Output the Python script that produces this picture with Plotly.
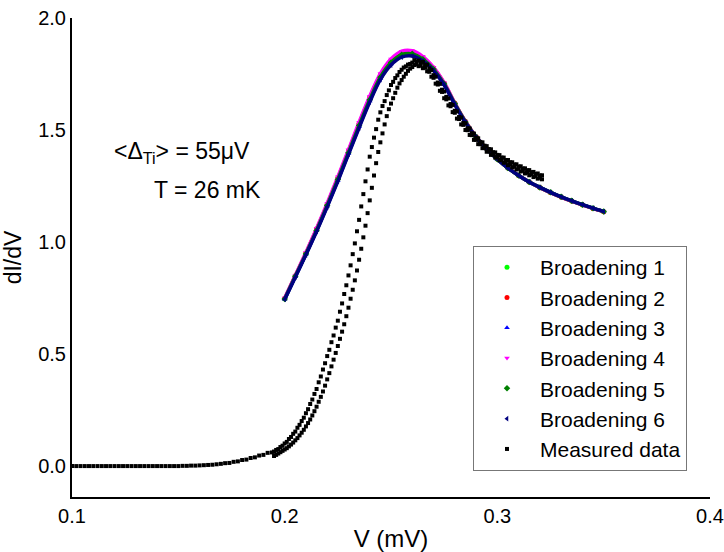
import plotly.graph_objects as go

# ---------------- data ----------------
th_v = [0.200, 0.205, 0.210, 0.215, 0.220, 0.225, 0.230, 0.235, 0.240, 0.245,
        0.250, 0.255, 0.260, 0.265, 0.270, 0.275, 0.280, 0.285, 0.290, 0.295,
        0.300, 0.305, 0.310, 0.315, 0.320, 0.325, 0.330, 0.335, 0.340, 0.345, 0.350]

b1 = [0.747, 0.848, 0.949, 1.055, 1.166, 1.282, 1.403, 1.524, 1.640, 1.741, 1.806, 1.841, 1.845, 1.821, 1.775, 1.708,
      1.619, 1.538, 1.470, 1.416, 1.371, 1.330, 1.297, 1.268, 1.243, 1.221, 1.201, 1.183, 1.166, 1.150, 1.135]
b2 = [0.748, 0.850, 0.951, 1.058, 1.169, 1.286, 1.407, 1.529, 1.645, 1.746, 1.811, 1.846, 1.849, 1.824, 1.777, 1.709,
      1.619, 1.538, 1.470, 1.416, 1.371, 1.331, 1.297, 1.268, 1.243, 1.221, 1.201, 1.183, 1.166, 1.150, 1.135]
b3 = [0.745, 0.845, 0.945, 1.050, 1.160, 1.275, 1.395, 1.515, 1.630, 1.730, 1.795, 1.830, 1.835, 1.812, 1.768, 1.703,
      1.615, 1.535, 1.468, 1.415, 1.370, 1.330, 1.297, 1.268, 1.244, 1.222, 1.202, 1.184, 1.167, 1.151, 1.136]
b4 = [0.750, 0.852, 0.954, 1.061, 1.173, 1.291, 1.412, 1.535, 1.651, 1.752, 1.817, 1.852, 1.854, 1.828, 1.780, 1.711,
      1.620, 1.538, 1.470, 1.416, 1.371, 1.331, 1.297, 1.268, 1.243, 1.221, 1.201, 1.183, 1.166, 1.150, 1.135]
b5 = [0.746, 0.847, 0.947, 1.052, 1.163, 1.279, 1.399, 1.520, 1.635, 1.736, 1.801, 1.836, 1.840, 1.816, 1.771, 1.705,
      1.617, 1.536, 1.469, 1.415, 1.370, 1.330, 1.297, 1.268, 1.244, 1.222, 1.202, 1.184, 1.167, 1.151, 1.136]
b6 = [0.744, 0.843, 0.943, 1.047, 1.157, 1.271, 1.391, 1.510, 1.625, 1.725, 1.790, 1.825, 1.830, 1.808, 1.765, 1.701,
      1.614, 1.534, 1.468, 1.415, 1.370, 1.330, 1.297, 1.268, 1.244, 1.222, 1.202, 1.184, 1.167, 1.151, 1.136]

# measured data: flat part
flat_v = [0.100, 0.102, 0.104, 0.106, 0.108, 0.110, 0.112, 0.114, 0.116, 0.118,
          0.120, 0.122, 0.124, 0.126, 0.128, 0.130, 0.132, 0.134, 0.136, 0.138,
          0.140, 0.142, 0.144, 0.146, 0.148, 0.150, 0.152, 0.154, 0.156, 0.158,
          0.160, 0.162, 0.164, 0.166, 0.168, 0.170, 0.172, 0.174, 0.176, 0.178,
          0.180, 0.182, 0.184, 0.186, 0.188, 0.190, 0.192, 0.194]
flat_y = [0.000] * 26 + [0.001, 0.001, 0.002, 0.002, 0.003, 0.004, 0.005, 0.006, 0.008, 0.010, 0.013,
                         0.014, 0.019, 0.021, 0.027, 0.029, 0.036, 0.039, 0.047, 0.050, 0.059, 0.061]

# measured data: rising part (two sweeps)
rise_v = [0.195, 0.196, 0.197, 0.198, 0.199, 0.200, 0.201, 0.202, 0.203, 0.204,
          0.205, 0.206, 0.207, 0.208, 0.209, 0.210, 0.211, 0.212, 0.213, 0.214,
          0.215, 0.216, 0.217, 0.218, 0.219, 0.220, 0.221, 0.222, 0.223, 0.224,
          0.225, 0.226, 0.227, 0.228, 0.229, 0.230, 0.231, 0.232, 0.233, 0.234,
          0.235, 0.236, 0.237, 0.238, 0.239, 0.240, 0.241, 0.242, 0.243, 0.244,
          0.245, 0.246, 0.247, 0.248, 0.249, 0.250, 0.251, 0.252, 0.253, 0.254,
          0.255, 0.256, 0.257, 0.258, 0.259, 0.260]
rise_a = [0.065, 0.072, 0.076, 0.085, 0.091, 0.101, 0.108, 0.121, 0.130, 0.144,
          0.154, 0.171, 0.184, 0.201, 0.216, 0.236, 0.254, 0.277, 0.297, 0.322,
          0.344, 0.374, 0.400, 0.431, 0.459, 0.491, 0.519, 0.553, 0.583, 0.618,
          0.649, 0.689, 0.726, 0.768, 0.807, 0.851, 0.896, 0.946, 0.994, 1.048,
          1.099, 1.159, 1.214, 1.271, 1.324, 1.381, 1.424, 1.466, 1.504, 1.546,
          1.579, 1.607, 1.629, 1.656, 1.677, 1.701, 1.715, 1.732, 1.744, 1.759,
          1.769, 1.779, 1.784, 1.792, 1.795, 1.801]
rise_b = [0.045, 0.050, 0.056, 0.062, 0.068, 0.074, 0.080, 0.088, 0.096, 0.105,
          0.115, 0.125, 0.137, 0.149, 0.162, 0.177, 0.192, 0.208, 0.226, 0.245,
          0.265, 0.287, 0.309, 0.333, 0.359, 0.387, 0.415, 0.445, 0.475, 0.505,
          0.536, 0.568, 0.600, 0.633, 0.669, 0.707, 0.747, 0.787, 0.829, 0.873,
          0.921, 0.970, 1.021, 1.073, 1.129, 1.186, 1.242, 1.297, 1.352, 1.402,
          1.445, 1.485, 1.525, 1.562, 1.593, 1.618, 1.642, 1.666, 1.689, 1.708,
          1.723, 1.738, 1.751, 1.764, 1.774, 1.781]

# measured data: falling part (two sweeps)
fall_v = [0.261, 0.262, 0.263, 0.264, 0.265, 0.266, 0.267, 0.268, 0.269, 0.270,
          0.271, 0.272, 0.273, 0.274, 0.275, 0.276, 0.277, 0.278, 0.279, 0.280,
          0.281, 0.282, 0.283, 0.284, 0.285, 0.286, 0.287, 0.288, 0.289, 0.290,
          0.291, 0.292, 0.293, 0.294, 0.295, 0.296, 0.297, 0.298, 0.299, 0.300,
          0.301, 0.302, 0.303, 0.304, 0.305, 0.306, 0.307, 0.308, 0.309, 0.310,
          0.311, 0.312, 0.313, 0.314, 0.315, 0.316, 0.317, 0.318, 0.319, 0.320, 0.321]
fall_a = [1.812, 1.806, 1.810, 1.801, 1.804, 1.790, 1.792, 1.775, 1.768, 1.745,
          1.738, 1.712, 1.706, 1.680, 1.672, 1.648, 1.641, 1.616, 1.612, 1.586,
          1.583, 1.558, 1.556, 1.532, 1.530, 1.508, 1.507, 1.486, 1.484, 1.466,
          1.463, 1.447, 1.445, 1.430, 1.428, 1.415, 1.414, 1.401, 1.400, 1.389,
          1.388, 1.377, 1.377, 1.366, 1.366, 1.356, 1.356, 1.346, 1.347, 1.337,
          1.338, 1.328, 1.329, 1.320, 1.321, 1.312, 1.313, 1.304, 1.306, 1.297, 1.298]
fall_b = [1.790, 1.793, 1.785, 1.788, 1.776, 1.778, 1.762, 1.760, 1.738, 1.733,
          1.707, 1.703, 1.675, 1.670, 1.642, 1.637, 1.610, 1.606, 1.580, 1.577,
          1.551, 1.549, 1.525, 1.523, 1.500, 1.499, 1.478, 1.477, 1.456, 1.456,
          1.437, 1.437, 1.419, 1.420, 1.403, 1.405, 1.389, 1.391, 1.377, 1.379,
          1.365, 1.367, 1.354, 1.356, 1.343, 1.346, 1.333, 1.336, 1.324, 1.327,
          1.315, 1.318, 1.306, 1.310, 1.298, 1.302, 1.290, 1.294, 1.283, 1.287, 1.280]

series_names = ["Broadening 1", "Broadening 2", "Broadening 3",
                "Broadening 4", "Broadening 5", "Broadening 6"]
series_vals = [b1, b2, b3, b4, b5, b6]
series_colors = ["#00ff00", "#ff0000", "#0000ff", "#ff00ff", "#008000", "#000080"]
series_symbols = ["circle", "circle", "triangle-up", "triangle-down", "diamond", "triangle-left"]

FONT = "Liberation Sans, Arial, sans-serif"

fig = go.Figure()
for name, vals, col, sym in zip(series_names, series_vals, series_colors, series_symbols):
    fig.add_trace(go.Scatter(x=th_v, y=vals, mode="lines", line=dict(color=col, width=3.5, shape="spline"),
                             showlegend=False, hoverinfo="skip"))
    fig.add_trace(go.Scatter(x=th_v, y=vals, mode="markers", name=name,
                             marker=dict(symbol=sym, size=5, color=col, line=dict(width=0))))

meas_v = flat_v + rise_v + rise_v + fall_v + fall_v
meas_y = flat_y + rise_a + rise_b + fall_a + fall_b
fig.add_trace(go.Scatter(x=meas_v, y=meas_y, mode="markers", name="Measured data",
                         marker=dict(symbol="square", size=4, color="black", line=dict(width=0))))

L, R, T, B = 72, 14, 18, 55
PW, PH = 724 - L - R, 552 - T - B

fig.update_layout(
    width=724, height=552,
    margin=dict(l=L, r=R, t=T, b=B, autoexpand=False),
    paper_bgcolor="white", plot_bgcolor="white",
    font=dict(family=FONT, color="black"),
    showlegend=True,
    legend=dict(x=(473 - L) / PW, y=(552 - B - 246) / PH, xanchor="left", yanchor="top",
                bgcolor="white", bordercolor="#777777", borderwidth=1,
                font=dict(family=FONT, size=21, color="black"),
                itemwidth=56, tracegroupgap=0),
    xaxis=dict(range=[0.1, 0.4], tickvals=[0.1, 0.2, 0.3, 0.4], ticktext=["0.1", "0.2", "0.3", "0.4"],
               showline=True, linecolor="black", linewidth=2, showgrid=False, zeroline=False,
               automargin=False, ticks="", tickfont=dict(size=20, family=FONT, color="black"),
               title=dict(text="V (mV)", font=dict(size=24, family=FONT, color="black"), standoff=8)),
    yaxis=dict(range=[-0.138, 2.0], tickvals=[0.0, 0.5, 1.0, 1.5, 2.0],
               ticktext=["0.0", "0.5", "1.0", "1.5", "2.0"],
               showline=True, linecolor="black", linewidth=2, showgrid=False, zeroline=False,
               automargin=False, ticks="", tickfont=dict(size=20, family=FONT, color="black"),
               title=dict(text="dI/dV", font=dict(size=23, family=FONT, color="black"), standoff=10)),
    annotations=[
        dict(xref="paper", yref="paper", x=(112 - L) / PW, y=(552 - B - 152) / PH, xanchor="left", yanchor="middle",
             text="&lt;Δ<sub>Ti</sub>&gt; = 55μV", showarrow=False,
             font=dict(size=23, family=FONT, color="black")),
        dict(xref="paper", yref="paper", x=(152 - L) / PW, y=(552 - B - 190) / PH, xanchor="left", yanchor="middle",
             text="T = 26 mK", showarrow=False, font=dict(size=23, family=FONT, color="black")),
    ],
)

fig.write_html("out.html")
